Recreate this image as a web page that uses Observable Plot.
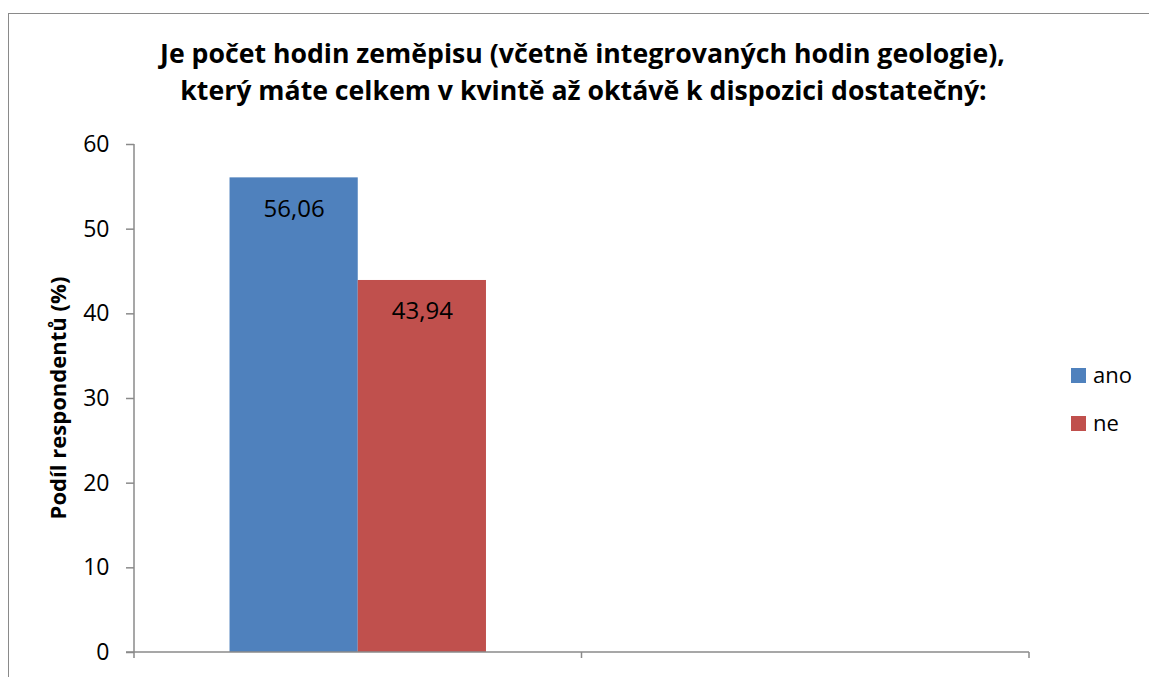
<!DOCTYPE html>
<html><head><meta charset="utf-8">
<script src="https://cdn.jsdelivr.net/npm/d3@7"></script>
<script src="https://cdn.jsdelivr.net/npm/@observablehq/plot@0.6"></script>
<style>
body{margin:0;background:#fff;}
#wrap{position:relative;width:1149px;height:677px;overflow:hidden;font-family:"Open Sans",sans-serif;background:#fff;}
#border{position:absolute;left:8px;top:13px;width:1300px;height:800px;border-left:1.5px solid #8a8a8a;border-top:1.5px solid #8a8a8a;box-sizing:border-box;}
#chart{position:absolute;left:0;top:0;}
#overlay{position:absolute;left:0;top:0;pointer-events:none;}
.leg{position:absolute;font-size:22px;line-height:1;color:#000;}
.sw{position:absolute;width:15px;height:15px;}
</style>
</head><body>
<div id="wrap">
<div id="border"></div>
<div id="chart"></div>
<svg id="overlay" width="1149" height="677"></svg>
<div id="legend"></div>
</div>
<script>
const titleLines = ["Je počet hodin zeměpisu (včetně integrovaných hodin geologie),", "který máte celkem v kvintě až oktávě k dispozici dostatečný:"];
const yTitle = "Podíl respondentů (%)";
const categories = ["1", "2"];
const series = ["ano", "ne"];
const values = [56.06, 43.94];
const colors = ["#4F81BD", "#C0504D"];
const yTicks = [0, 10, 20, 30, 40, 50, 60];

const data = series.map((s, i) => ({category: categories[0], series: s, value: values[i]}));
const fmt = v => d3.format(".2f")(v).replace(".", ",");
const axisGray = "#8a8a8a";

const chart = Plot.plot({
  width: 1149, height: 677,
  marginTop: 144, marginBottom: 25, marginLeft: 134, marginRight: 120,
  style: {fontFamily: '"Open Sans", sans-serif', fontSize: "23px", background: "transparent", color: "black", overflow: "visible"},
  fx: {domain: categories, padding: 0, axis: null, label: null, round: false},
  x: {domain: series, paddingInner: 0, paddingOuter: 0.745, axis: null, label: null, round: false},
  y: {domain: [0, 60], label: null},
  color: {domain: series, range: colors},
  marks: [
    Plot.axisY({ticks: yTicks, tickSize: 8, tickPadding: 17, stroke: axisGray, strokeWidth: 1.5, fill: "black", label: null, fontSize: 23}),
    Plot.barY(data, {fx: "category", x: "series", y: "value", fill: "series", insetLeft: 0, insetRight: 0}),
    Plot.text(data, {fx: "category", x: "series", y: "value", text: d => fmt(d.value), dy: 31, fontSize: 24, fill: "black"})
  ]
});
document.getElementById("chart").appendChild(chart);

// axis lines and category boundary ticks, placed through the chart's own scales
const fx = chart.scale("fx"), y = chart.scale("y");
const svg = d3.select(chart);
const y0 = y.apply(0), yTop = y.apply(60);
const bounds = categories.map(c => fx.apply(c)).concat([fx.apply(categories[categories.length - 1]) + fx.bandwidth]);
const x0 = bounds[0], x1 = bounds[bounds.length - 1];
svg.append("line").attr("x1", x0).attr("x2", x0).attr("y1", yTop).attr("y2", y0)
  .attr("stroke", axisGray).attr("stroke-width", 1.5);
svg.append("line").attr("x1", x0 - 8).attr("x2", x1).attr("y1", y0).attr("y2", y0)
  .attr("stroke", axisGray).attr("stroke-width", 1.5);
bounds.forEach(b => {
  svg.append("line").attr("x1", b).attr("x2", b).attr("y1", y0).attr("y2", y0 + 6)
    .attr("stroke", axisGray).attr("stroke-width", 1.5);
});

// titles
const ov = d3.select("#overlay");
function fitText(sel, target) {
  const w = sel.node().getComputedTextLength();
  const fs = parseFloat(sel.attr("font-size"));
  sel.attr("font-size", fs * target / w);
}
const t1 = ov.append("text").attr("x", 582.5).attr("y", 63).attr("text-anchor", "middle")
  .attr("font-family", '"Open Sans", sans-serif').attr("font-weight", "bold").attr("font-size", 24).text(titleLines[0]);
fitText(t1, 845);
const t2 = ov.append("text").attr("x", 583.5).attr("y", 100).attr("text-anchor", "middle")
  .attr("font-family", '"Open Sans", sans-serif').attr("font-weight", "bold").attr("font-size", 24).text(titleLines[1]);
t2.attr("font-size", t1.attr("font-size"));
const yt = ov.append("text").attr("transform", "translate(66,398) rotate(-90)").attr("text-anchor", "middle")
  .attr("font-family", '"Open Sans", sans-serif').attr("font-weight", "bold").attr("font-size", 20).text(yTitle);
fitText(yt, 243);

// legend
const color = chart.scale("color");
const leg = document.getElementById("legend");
series.forEach((s, i) => {
  const cy = 375.5 + i * 48;
  const sw = document.createElement("div");
  sw.className = "sw";
  sw.style.left = "1071px"; sw.style.top = (cy - 7.5) + "px";
  sw.style.background = color.apply(s);
  leg.appendChild(sw);
  const t = document.createElement("div");
  t.className = "leg";
  t.style.left = "1093px"; t.style.top = (cy - 13) + "px";
  t.textContent = s;
  leg.appendChild(t);
});
</script>
</body></html>
